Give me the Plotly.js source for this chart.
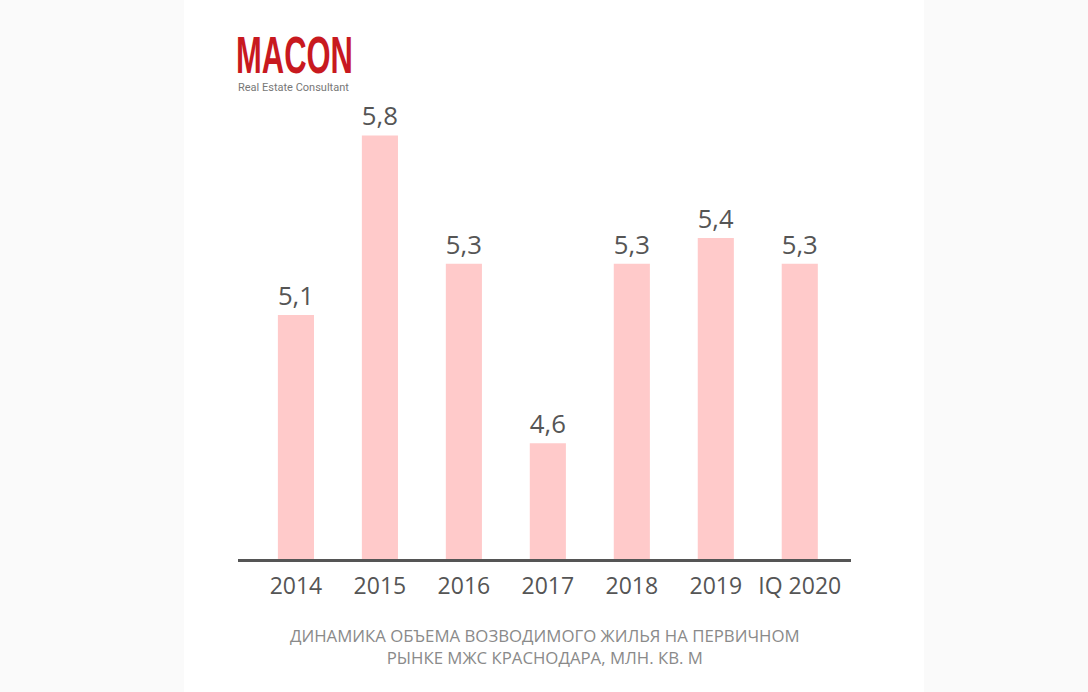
<!DOCTYPE html>
<html>
<head>
<meta charset="utf-8">
<script src="https://cdn.plot.ly/plotly-3.0.1.min.js"></script>
<style>html,body{margin:0;padding:0;background:#fafafa;}#chart{width:1088px;height:692px;}</style>
</head>
<body>
<div id="chart"></div>
<script>
var categories = ["2014", "2015", "2016", "2017", "2018", "2019", "IQ 2020"];
var values = [5.1, 5.8, 5.3, 4.6, 5.3, 5.4, 5.3];
var valueLabels = ["5,1", "5,8", "5,3", "4,6", "5,3", "5,4", "5,3"];
var chartTitle = "ДИНАМИКА ОБЪЕМА ВОЗВОДИМОГО ЖИЛЬЯ НА ПЕРВИЧНОМ<br>РЫНКЕ МЖС КРАСНОДАРА, МЛН. КВ. М";
var logoText = "MACON";
var logoSub = "Real Estate Consultant";

var W = 1088, H = 692;
var mL = 238, mR = 237, mT = 100, mB = 133;
var pw = W - mL - mR, ph = H - mT - mB;
function px(x) { return (x - mL) / pw; }
function py(y) { return (H - mB - y) / ph; }

var trace = {
  type: "bar",
  x: categories,
  y: values,
  text: valueLabels,
  textposition: "outside",
  cliponaxis: false,
  textfont: {family: "Open Sans, sans-serif", size: 29, color: "#555555"},
  marker: {color: "#ffcaca"},
  width: 0.43,
  hoverinfo: "x+y"
};

var layout = {
  width: W, height: H,
  margin: {l: mL, r: mR, t: mT, b: mB},
  paper_bgcolor: "#fafafa",
  plot_bgcolor: "rgba(0,0,0,0)",
  showlegend: false,
  font: {family: "Open Sans, sans-serif", color: "#555555"},
  xaxis: {
    type: "category",
    range: [-0.69, 6.61],
    showline: true, linecolor: "#555555", linewidth: 3,
    showgrid: false, zeroline: false, ticks: "",
    ticklabelstandoff: 4,
    tickfont: {family: "Open Sans, sans-serif", size: 23, color: "#555555"},
    fixedrange: true
  },
  yaxis: {
    range: [4.149, 5.938],
    visible: false, showgrid: false, zeroline: false,
    fixedrange: true
  },
  shapes: [{
    type: "rect", xref: "paper", yref: "paper", layer: "below",
    x0: px(184), x1: px(924), y0: py(692), y1: py(0),
    fillcolor: "#ffffff", line: {width: 0}
  }],
  annotations: [
    {
      xref: "paper", yref: "paper", x: px(234), y: py(24),
      xanchor: "left", yanchor: "top", showarrow: false,
      text: "<b>" + logoText + "</b>",
      font: {family: "Liberation Sans, Arial, sans-serif", size: 52, color: "#c8191f"}
    },
    {
      xref: "paper", yref: "paper", x: px(236), y: py(79),
      xanchor: "left", yanchor: "top", showarrow: false,
      text: logoSub,
      font: {family: "Roboto, sans-serif", size: 11, color: "#777777"}
    },
    {
      xref: "paper", yref: "paper", x: px(545), y: py(622),
      xanchor: "center", yanchor: "top", showarrow: false,
      text: chartTitle,
      font: {family: "Open Sans, sans-serif", size: 16.8, color: "#8a8a8a"}
    }
  ]
};

var gd = document.getElementById("chart");
Plotly.newPlot(gd, [trace], layout, {displayModeBar: false, staticPlot: true}).then(function () {
  var t = gd.querySelectorAll(".annotation-text")[0];
  if (t) {
    var bb = t.getBBox();
    var s = 117 / bb.width;
    t.setAttribute("transform", "translate(" + bb.x + ",0) scale(" + s + ",1) translate(" + (-bb.x) + ",0)");
  }
});
</script>
</body>
</html>
